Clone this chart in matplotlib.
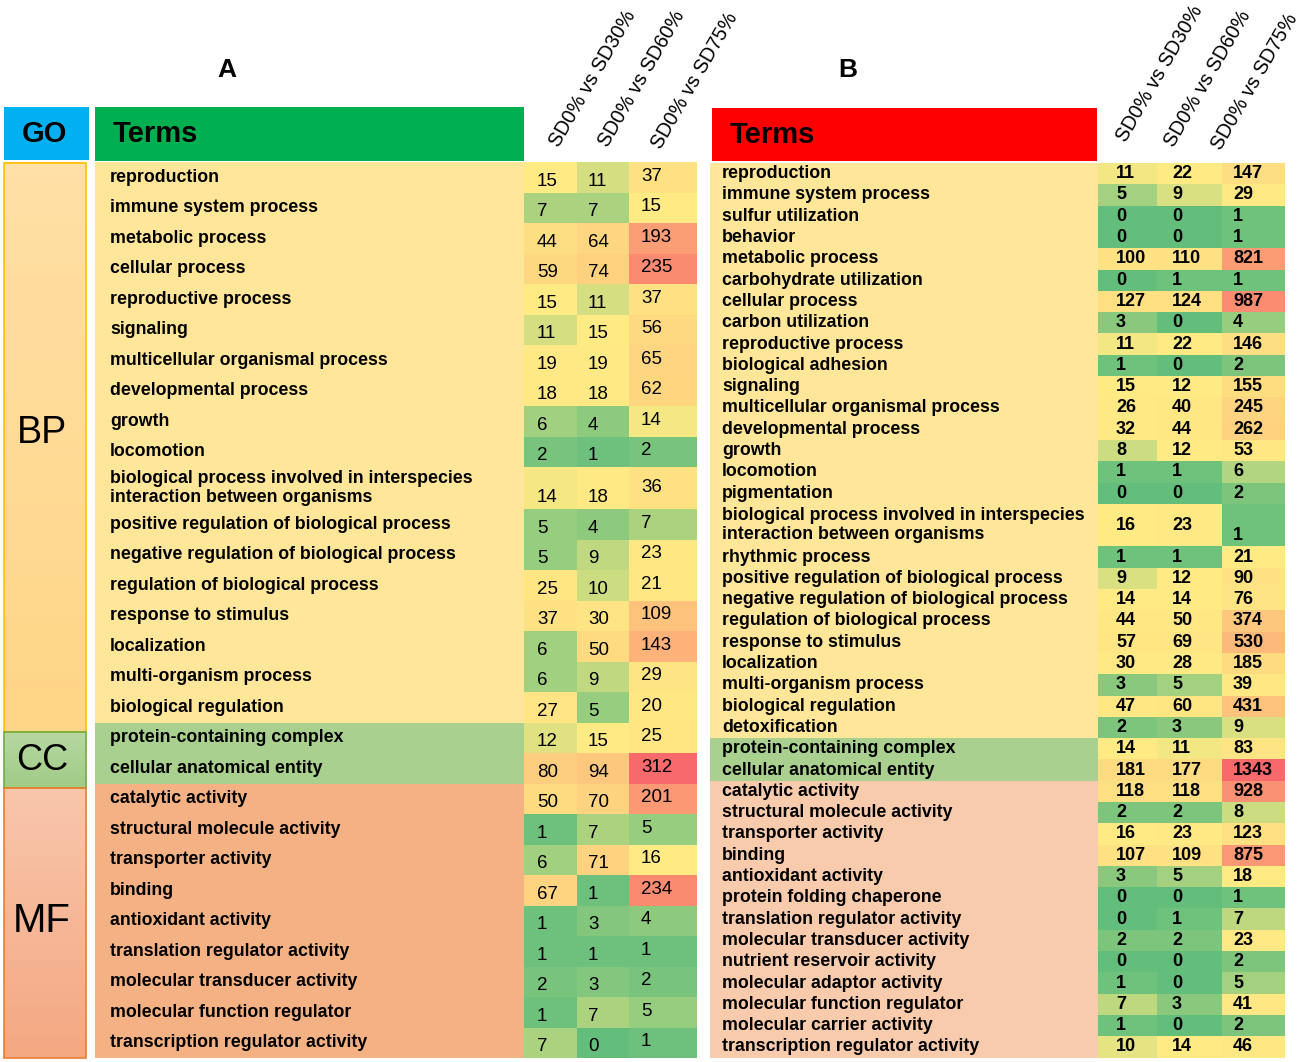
import numpy as np
import matplotlib
matplotlib.use("Agg")
import matplotlib.pyplot as plt
from matplotlib.colors import LinearSegmentedColormap, TwoSlopeNorm
from matplotlib.patches import Rectangle

plt.rcParams['font.family'] = ['Liberation Sans', 'DejaVu Sans']

# ---------------- data ----------------
col_labels = ["SD0% vs SD30%", "SD0% vs SD60%", "SD0% vs SD75%"]
go_labels = ["BP", "CC", "MF"]

# panel A
a_bp_terms = ["reproduction", "immune system process", "metabolic process", "cellular process",
              "reproductive process", "signaling", "multicellular organismal process",
              "developmental process", "growth", "locomotion",
              "biological process involved in interspecies\ninteraction between organisms",
              "positive regulation of biological process", "negative regulation of biological process",
              "regulation of biological process", "response to stimulus", "localization",
              "multi-organism process", "biological regulation"]
a_cc_terms = ["protein-containing complex", "cellular anatomical entity"]
a_mf_terms = ["catalytic activity", "structural molecule activity", "transporter activity", "binding",
              "antioxidant activity", "translation regulator activity", "molecular transducer activity",
              "molecular function regulator", "transcription regulator activity"]
a_sd30 = [15, 7, 44, 59, 15, 11, 19, 18, 6, 2, 14, 5, 5, 25, 37, 6, 6, 27,
          12, 80,
          50, 1, 6, 67, 1, 1, 2, 1, 7]
a_sd60 = [11, 7, 64, 74, 11, 15, 19, 18, 4, 1, 18, 4, 9, 10, 30, 50, 9, 5,
          15, 94,
          70, 7, 71, 1, 3, 1, 3, 7, 0]
a_sd75 = [37, 15, 193, 235, 37, 56, 65, 62, 14, 2, 36, 7, 23, 21, 109, 143, 29, 20,
          25, 312,
          201, 5, 16, 234, 4, 1, 2, 5, 1]

# panel B
b_bp_terms = ["reproduction", "immune system process", "sulfur utilization", "behavior",
              "metabolic process", "carbohydrate utilization", "cellular process", "carbon utilization",
              "reproductive process", "biological adhesion", "signaling",
              "multicellular organismal process", "developmental process", "growth", "locomotion",
              "pigmentation",
              "biological process involved in interspecies\ninteraction between organisms",
              "rhythmic process", "positive regulation of biological process",
              "negative regulation of biological process", "regulation of biological process",
              "response to stimulus", "localization", "multi-organism process",
              "biological regulation", "detoxification"]
b_cc_terms = ["protein-containing complex", "cellular anatomical entity"]
b_mf_terms = ["catalytic activity", "structural molecule activity", "transporter activity", "binding",
              "antioxidant activity", "protein folding chaperone", "translation regulator activity",
              "molecular transducer activity", "nutrient reservoir activity", "molecular adaptor activity",
              "molecular function regulator", "molecular carrier activity",
              "transcription regulator activity"]
b_sd30 = [11, 5, 0, 0, 100, 0, 127, 3, 11, 1, 15, 26, 32, 8, 1, 0, 16, 1, 9, 14, 44, 57, 30, 3, 47, 2,
          14, 181,
          118, 2, 16, 107, 3, 0, 0, 2, 0, 1, 7, 1, 10]
b_sd60 = [22, 9, 0, 0, 110, 1, 124, 0, 22, 0, 12, 40, 44, 12, 1, 0, 23, 1, 12, 14, 50, 69, 28, 5, 60, 3,
          11, 177,
          118, 2, 23, 109, 5, 0, 1, 2, 0, 0, 3, 0, 14]
b_sd75 = [147, 29, 1, 1, 821, 1, 987, 4, 146, 2, 155, 245, 262, 53, 6, 2, 1, 21, 90, 76, 374, 530, 185, 39,
          431, 9,
          83, 1343,
          928, 8, 123, 875, 18, 1, 7, 23, 2, 5, 41, 2, 46]

# ---------------- figure ----------------
W, H = 1305, 1062
fig = plt.figure(figsize=(W / 100, H / 100), dpi=100)
ax = fig.add_axes([0, 0, 1, 1])

# Excel style 3-colour scale
cmap = LinearSegmentedColormap.from_list("excel", ["#63BE7B", "#FFEB84", "#F8696B"])


def row_edges(terms, top, pitch, tall):
    heights = [tall if "\n" in t else pitch for t in terms]
    return top + np.concatenate([[0], np.cumsum(heights)])


def draw_panel(groups, vals, top, pitch, tall, term_x0, x_edges, bg_colors,
               term_x, num_x, num_weight, num_size, num_dy, tall_mode):
    terms = sum(groups, [])
    edges = row_edges(terms, top, pitch, tall)
    norm = TwoSlopeNorm(vmin=vals.min(), vcenter=np.median(vals), vmax=vals.max())
    ax.pcolormesh(x_edges, edges, vals, cmap=cmap, norm=norm, shading="flat", zorder=1)

    start = 0
    for g, c in zip(groups, bg_colors):
        end = start + len(g)
        ax.add_patch(Rectangle((term_x0, edges[start]), x_edges[0] - term_x0,
                               edges[end] - edges[start], facecolor=c, edgecolor="none", zorder=1))
        start = end

    for i, t in enumerate(terms):
        yc = (edges[i] + edges[i + 1]) / 2
        ax.text(term_x, yc, t, fontsize=12.8, fontweight="bold", ha="left", va="center",
                linespacing=1.2, zorder=3)
        is_tall = "\n" in t
        for j in range(vals.shape[1]):
            if is_tall and tall_mode[j] == "bottom":
                y = edges[i + 1] - 11
            elif is_tall:
                y = yc
            else:
                y = yc + num_dy[j]
            ax.text(num_x[j], y, str(vals[i, j]), fontsize=num_size, fontweight=num_weight,
                    ha="left", va="center", zorder=3)
    return edges


# ---- panel A ----
a_groups = [a_bp_terms, a_cc_terms, a_mf_terms]
a_vals = np.column_stack([a_sd30, a_sd60, a_sd75])
a_xe = [524, 577, 629, 697]
a_edges = draw_panel(a_groups, a_vals, 162, 30.5, 42, 95, a_xe,
                     ["#FFE699", "#A9D08E", "#F4B183"], 110, [537, 588, 641],
                     "normal", 13.5, [4, 4, -1], ["bottom", "bottom", "center"])

# GO header and category boxes
ax.add_patch(Rectangle((4, 107), 85, 53, facecolor="#00B0F0", edgecolor="none"))
ax.text(44, 134, "GO", fontsize=21, fontweight="bold", ha="center", va="center")
ax.add_patch(Rectangle((95, 107), a_xe[0] - 95, 54, facecolor="#00B050", edgecolor="none"))
ax.text(113, 134, "Terms", fontsize=21, fontweight="bold", ha="left", va="center")

n_bp, n_cc = len(a_bp_terms), len(a_cc_terms)
box_y = [a_edges[0] + 1, a_edges[n_bp] + 9, a_edges[n_bp + n_cc] + 4, a_edges[-1]]
box_grad = [("#FFE0A6", "#FFD687"), ("#B6D8A2", "#A1CB87"), ("#F9C6AC", "#F4A882")]
box_edge = ["#FFC000", "#70AD47", "#ED7D31"]
box_size = [27, 26, 29]
box_dy = [-14, 1, -2]
for k, lab in enumerate(go_labels):
    y0, y1 = box_y[k], box_y[k + 1]
    grad = LinearSegmentedColormap.from_list("g%d" % k, box_grad[k])
    ax.imshow(np.linspace(0, 1, 50).reshape(-1, 1), cmap=grad, extent=(4, 86, y1, y0),
              aspect="auto", zorder=1)
    ax.add_patch(Rectangle((4, y0), 82, y1 - y0, facecolor="none", edgecolor=box_edge[k],
                           linewidth=1.2, zorder=2))
    ax.text(42, (y0 + y1) / 2 + box_dy[k], lab, fontsize=box_size[k], ha="center", va="center", zorder=3)

ax.text(227, 70, "A", fontsize=19, fontweight="bold", ha="center", va="center")
for x, y, lab in zip([559, 608, 661], [148, 148, 150], col_labels):
    ax.text(x, y, lab, fontsize=14.2, rotation=60, rotation_mode="anchor",
            ha="left", va="baseline")

# ---- panel B ----
b_groups = [b_bp_terms, b_cc_terms, b_mf_terms]
b_vals = np.column_stack([b_sd30, b_sd60, b_sd75])
b_xe = [1098, 1157, 1222, 1285]
draw_panel(b_groups, b_vals, 163, 21.3, 42.6, 710, b_xe,
           ["#FFE699", "#A9D08E", "#F8CBAD"], 722, [1116, 1172, 1233],
           "bold", 13, [0, 0, 0], ["center", "center", "bottom"])

ax.add_patch(Rectangle((712, 108), 385, 53, facecolor="#FF0000", edgecolor="none"))
ax.text(730, 135, "Terms", fontsize=21, fontweight="bold", ha="left", va="center")
ax.text(848, 70, "B", fontsize=19, fontweight="bold", ha="center", va="center")
for x, y, lab in zip([1126, 1174, 1221], [143, 148, 151], col_labels):
    ax.text(x, y, lab, fontsize=14.2, rotation=60, rotation_mode="anchor",
            ha="left", va="baseline")

ax.set_xlim(0, W)
ax.set_ylim(H, 0)
ax.set_aspect("auto")
ax.axis("off")

fig.savefig("out.png", dpi=100)
